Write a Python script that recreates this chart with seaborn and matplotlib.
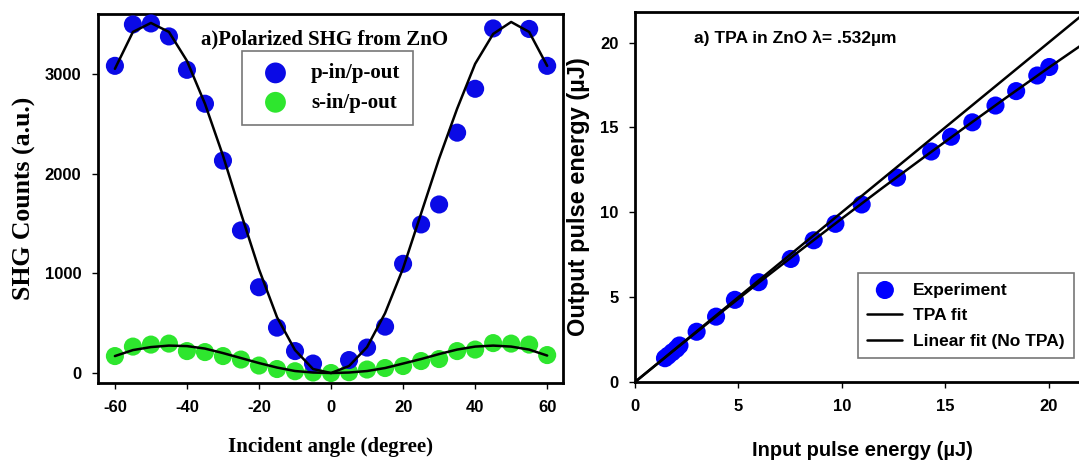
import matplotlib
matplotlib.use('Agg')
import matplotlib.pyplot as plt
import seaborn as sns
import pandas as pd

# ---- left panel: polarized SHG ----
angle = [-60, -55, -50, -45, -40, -35, -30, -25, -20, -15, -10, -5, 0,
         5, 10, 15, 20, 25, 30, 35, 40, 45, 50, 55, 60]
p_in = [3080, 3495, 3505, 3375, 3040, 2700, 2130, 1430, 860, 455, 220, 95, None,
        130, 255, 465, 1095, 1490, 1690, 2410, 2850, 3455, None, 3450, 3080]
s_in = [170, 265, 285, 295, 220, 210, 170, 135, 75, 40, 18, 5, 0,
        8, 35, 50, 70, 120, 140, 220, 235, 300, 295, 285, 180]
p_fit = [3050, 3420, 3510, 3420, 3130, 2700, 2180, 1600, 1040, 560, 230, 40, 0,
         70, 260, 600, 1050, 1600, 2150, 2650, 3100, 3400, 3520, 3420, 3080]
s_fit = [170, 230, 260, 275, 270, 245, 200, 150, 100, 55, 20, 5, 0,
         5, 20, 50, 95, 140, 190, 235, 265, 275, 265, 235, 175]

# ---- right panel: TPA in ZnO ----
e_in = [1.45, 1.6, 1.8, 2.0, 2.15, 2.98, 3.92, 4.83, 5.98, 7.53, 8.64, 9.69,
        10.96, 12.67, 14.32, 15.28, 16.31, 17.43, 18.43, 19.45, 20.03]
e_out = [1.4, 1.55, 1.75, 1.95, 2.15, 2.96, 3.85, 4.84, 5.88, 7.25, 8.35, 9.32,
         10.46, 12.04, 13.58, 14.45, 15.30, 16.29, 17.14, 18.06, 18.56]
fit_x = [0, 2, 4, 6, 8, 10, 12, 14, 16, 18, 20, 22]
tpa_y = [0, 1.98, 3.94, 5.87, 7.76, 9.63, 11.47, 13.27, 15.05, 16.8, 18.52, 20.2]
lin_y = [0, 2, 4, 6, 8, 10, 12, 14, 16, 18, 20, 22]

sns.set_style('ticks')
plt.rcParams['font.family'] = ['Liberation Sans', 'DejaVu Sans']
plt.rcParams['axes.unicode_minus'] = False
plt.rcParams['text.color'] = 'black'
plt.rcParams['axes.labelcolor'] = 'black'
plt.rcParams['xtick.color'] = 'black'
plt.rcParams['ytick.color'] = 'black'

fig = plt.figure(figsize=(10.79, 4.63), dpi=100)
ax1 = fig.add_axes([0.0908, 0.1728, 0.431, 0.797])
ax2 = fig.add_axes([0.5885, 0.175, 0.4217, 0.799])

serif = ['Liberation Serif', 'DejaVu Serif']
blue = '#0a0ae6'
green = '#2ee62e'

df1 = pd.DataFrame({'angle': angle, 'p': p_in, 's': s_in, 'pf': p_fit, 'sf': s_fit})
sns.scatterplot(data=df1, x='angle', y='s', color=green, s=170, edgecolor='none',
                ax=ax1, label='s-in/p-out', zorder=2)
sns.scatterplot(data=df1, x='angle', y='p', color=blue, s=170, edgecolor='none',
                ax=ax1, label='p-in/p-out', zorder=3)
sns.lineplot(data=df1, x='angle', y='pf', color='black', lw=1.8, ax=ax1, sort=False, zorder=4)
sns.lineplot(data=df1, x='angle', y='sf', color='black', lw=1.8, ax=ax1, sort=False, zorder=4)

ax1.set_xlim(-64.7, 64.4)
ax1.set_ylim(-100, 3600)
ax1.set_xticks([-60, -40, -20, 0, 20, 40, 60])
ax1.set_yticks([0, 1000, 2000, 3000])
ax1.set_xlabel('Incident angle (degree)', family=serif, fontweight='bold', fontsize=15, labelpad=16)
ax1.set_ylabel('SHG Counts (a.u.)', family=serif, fontweight='bold', fontsize=18.5, labelpad=6)
ax1.text(0.487, 0.93, 'a)Polarized SHG from ZnO', transform=ax1.transAxes, ha='center',
         va='center', family=serif, fontweight='bold', fontsize=15)
h, l = ax1.get_legend_handles_labels()
leg1 = ax1.legend([h[1], h[0]], [l[1], l[0]], loc='upper left', bbox_to_anchor=(0.31, 0.9),
                  prop={'family': serif, 'weight': 'bold', 'size': 15}, fancybox=False,
                  edgecolor='#555555', borderpad=0.6, handletextpad=0.7, labelspacing=0.45,
                  borderaxespad=0, handlelength=2.0, markerscale=1.15)
leg1.get_frame().set_linewidth(1.2)

df2 = pd.DataFrame({'x': e_in, 'y': e_out})
dfl = pd.DataFrame({'x': fit_x, 'tpa': tpa_y, 'lin': lin_y})
sns.scatterplot(data=df2, x='x', y='y', color='#0000ff', s=170, edgecolor='none', ax=ax2,
                label='Experiment', zorder=2)
sns.lineplot(data=dfl, x='x', y='tpa', color='black', lw=1.8, ax=ax2, label='TPA fit', zorder=3)
sns.lineplot(data=dfl, x='x', y='lin', color='black', lw=1.8, ax=ax2,
             label='Linear fit (No TPA)', zorder=3)
ax2.set_xlim(0, 22)
ax2.set_ylim(0, 21.8)
ax2.set_xticks([0, 5, 10, 15, 20])
ax2.set_yticks([0, 5, 10, 15, 20])
ax2.set_xlabel('Input pulse energy (µJ)', fontweight='bold', fontsize=14.5, labelpad=20)
ax2.set_ylabel('Output pulse energy (µJ)', fontweight='bold', fontsize=17, labelpad=7)
ax2.text(0.13, 0.93, 'a) TPA in ZnO λ= .532µm', transform=ax2.transAxes, ha='left',
         va='center', fontweight='bold', fontsize=12.5)
leg2 = ax2.legend(loc='upper left', bbox_to_anchor=(0.49, 0.295),
                  prop={'weight': 'bold', 'size': 12.5}, fancybox=False, edgecolor='#555555',
                  borderpad=0.55, handletextpad=0.6, labelspacing=0.6, handlelength=2.0,
                  borderaxespad=0)
leg2.get_frame().set_linewidth(1.2)

for ax in (ax1, ax2):
    for sp in ax.spines.values():
        sp.set_linewidth(2)
        sp.set_color('black')
    ax.tick_params(direction='out', length=4, width=1, labelsize=12, pad=8, colors='black')
    for t in ax.get_xticklabels() + ax.get_yticklabels():
        t.set_fontweight('bold')
    ax.grid(False)

fig.savefig('out.png', dpi=100)
